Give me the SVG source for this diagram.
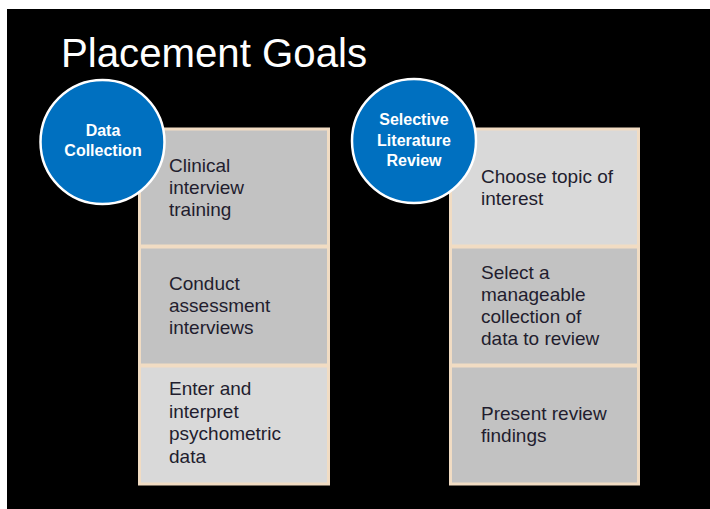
<svg xmlns="http://www.w3.org/2000/svg" width="710" height="509" viewBox="0 0 710 509">
<style>
.box{stroke:#f1dcc3;stroke-width:3}
.g{fill:#c2c2c2}
.l{fill:#d9d9d9}
.t{font-family:"Liberation Sans",Arial,sans-serif;font-size:19px;fill:#221d2e}
.c{fill:#0070c0;stroke:#ffffff;stroke-width:2.5}
.ct{font-family:"Liberation Sans",Arial,sans-serif;font-size:16px;font-weight:bold;fill:#ffffff;text-anchor:middle}
</style>
<rect x="0" y="0" width="710" height="509" fill="#ffffff"/>
<rect x="7" y="9" width="703" height="500" fill="#000000"/>
<text x="61" y="67" font-family="'Liberation Sans',Arial,sans-serif" font-size="40" fill="#ffffff" textLength="306" lengthAdjust="spacingAndGlyphs">Placement Goals</text>

<g id="dc-1">
<rect class="box g" x="139.5" y="129" width="189" height="117"/>
<text class="t" x="169"><tspan x="169" y="172">Clinical</tspan><tspan x="169" y="194">interview</tspan><tspan x="169" y="216">training</tspan></text>
</g>
<g id="dc-2">
<rect class="box g" x="139.5" y="247" width="189" height="118"/>
<text class="t"><tspan x="169" y="290">Conduct</tspan><tspan x="169" y="312">assessment</tspan><tspan x="169" y="334">interviews</tspan></text>
</g>
<g id="dc-3">
<rect class="box l" x="139.5" y="366" width="189" height="118"/>
<text class="t"><tspan x="169" y="395">Enter and</tspan><tspan x="169" y="417.5">interpret</tspan><tspan x="169" y="440">psychometric</tspan><tspan x="169" y="462.5">data</tspan></text>
</g>
<g id="data-collection">
<circle class="c" cx="102.5" cy="142" r="62"/>
<text class="ct"><tspan x="103" y="136">Data</tspan><tspan x="103" y="156">Collection</tspan></text>
</g>

<g id="lr-1">
<rect class="box l" x="450.5" y="129" width="188" height="117"/>
<text class="t"><tspan x="481" y="183">Choose topic of</tspan><tspan x="481" y="205">interest</tspan></text>
</g>
<g id="lr-2">
<rect class="box g" x="450.5" y="247" width="188" height="118"/>
<text class="t"><tspan x="481" y="279">Select a</tspan><tspan x="481" y="301">manageable</tspan><tspan x="481" y="323">collection of</tspan><tspan x="481" y="345">data to review</tspan></text>
</g>
<g id="lr-3">
<rect class="box g" x="450.5" y="366" width="188" height="118"/>
<text class="t"><tspan x="481" y="420">Present review</tspan><tspan x="481" y="442">findings</tspan></text>
</g>
<g id="literature-review">
<circle class="c" cx="414" cy="141" r="62"/>
<text class="ct"><tspan x="414" y="125">Selective</tspan><tspan x="414" y="146">Literature</tspan><tspan x="414" y="166">Review</tspan></text>
</g>
<g id="connectors"/>
</svg>
